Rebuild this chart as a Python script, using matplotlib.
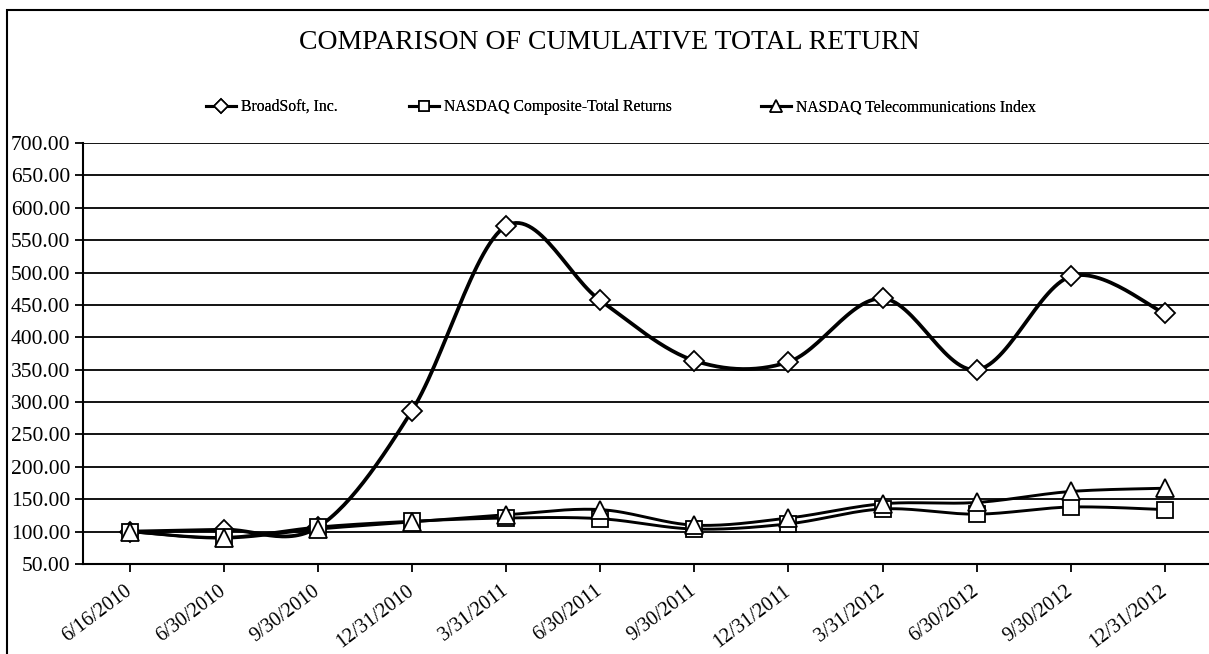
import numpy as np
import matplotlib
matplotlib.use("Agg")
import matplotlib.pyplot as plt
from matplotlib.patches import Rectangle

plt.rcParams["font.family"] = ["Liberation Serif", "DejaVu Serif"]

dates = ["6/16/2010", "6/30/2010", "9/30/2010", "12/31/2010", "3/31/2011",
         "6/30/2011", "9/30/2011", "12/31/2011", "3/31/2012", "6/30/2012",
         "9/30/2012", "12/31/2012"]
broadsoft = [100, 103, 107, 287, 572, 457, 364, 362, 460, 350, 494, 437]
nasdaq_comp = [100, 91, 107, 116, 121, 120, 104, 112, 135, 127, 138, 134]
nasdaq_tele = [100, 90, 104, 115, 126, 134, 110, 121, 143, 145, 162, 167]
y_ticks = list(range(50, 701, 50))


def smooth(vals, n=30):
    """Excel-like smoothed line (Catmull-Rom through the points)."""
    p = np.column_stack([np.arange(len(vals)), np.asarray(vals, float)])
    ext = np.vstack([p[0], p, p[-1]])
    xs, ys = [], []
    t = np.linspace(0, 1, n)[:, None]
    for i in range(1, len(ext) - 2):
        p0, p1, p2, p3 = ext[i - 1], ext[i], ext[i + 1], ext[i + 2]
        c1 = p1 + (p2 - p0) / 6
        c2 = p2 - (p3 - p1) / 6
        seg = ((1 - t) ** 3) * p1 + 3 * ((1 - t) ** 2) * t * c1 \
            + 3 * (1 - t) * t ** 2 * c2 + t ** 3 * p2
        xs.extend(seg[:, 0])
        ys.extend(seg[:, 1])
    return xs, ys


fig = plt.figure(figsize=(12.09, 6.54), dpi=100)
ax = fig.add_axes([0.0684, 0.1376, 0.934, 0.6437])

series = [
    ("BroadSoft, Inc.", broadsoft, "D", 10.5, 2.7),
    ("NASDAQ Composite-Total Returns", nasdaq_comp, "s", 11, 2.1),
    ("NASDAQ Telecommunications Index", nasdaq_tele, "^", 13, 2.1),
]
handles = []
for label, vals, mk, ms, lw in series:
    sx, sy = smooth(vals)
    ax.plot(sx, sy, color="black", lw=lw, zorder=3, solid_capstyle="round")
    ax.plot(range(len(vals)), vals, ls="none", marker=mk, ms=ms,
            mfc="white", mec="black", mew=1.3, zorder=4)
    h, = ax.plot([], [], color="black", lw=2.2, marker=mk, ms=ms * 0.65,
                 mfc="white", mec="black", mew=1.2, label=label)
    handles.append(h)

ax.set_xlim(-0.5, 11.5)
ax.set_ylim(50, 700)
ax.set_yticks(y_ticks)
ax.set_yticklabels(["%.2f" % v for v in y_ticks], fontsize=15.5)
ax.set_xticks(range(len(dates)))
ax.set_xticklabels(dates, rotation=37, ha="right", va="center",
                   rotation_mode="anchor", fontsize=14.5)
ax.yaxis.grid(True, color="black", lw=1.3)
ax.set_axisbelow(True)
for s in ["top", "right"]:
    ax.spines[s].set_visible(False)
ax.spines["left"].set_linewidth(1.5)
ax.spines["bottom"].set_linewidth(1.5)
ax.tick_params(axis="y", length=6, width=1.3, pad=3)
ax.tick_params(axis="x", length=6, width=1.3, pad=12, direction="out")

fig.text(0.504, 0.935, "COMPARISON OF CUMULATIVE TOTAL RETURN",
         ha="center", va="center", fontsize=20)

# legend entries placed one by one, as in the original
leg_x = [206, 409, 761]
for h, lx in zip(handles, leg_x):
    leg = fig.legend(handles=[h], loc="center left",
                     bbox_to_anchor=(lx / 1209, 1 - 107 / 654),
                     frameon=False, fontsize=11.3, borderpad=0,
                     borderaxespad=0, handlelength=1.9, handletextpad=0.3)
    fig.add_artist(leg)

fig.patches.append(Rectangle((0.006, -0.05), 1.1, 1.035, transform=fig.transFigure,
                             fill=False, ec="black", lw=1.5))

fig.savefig("out.png", dpi=100)
